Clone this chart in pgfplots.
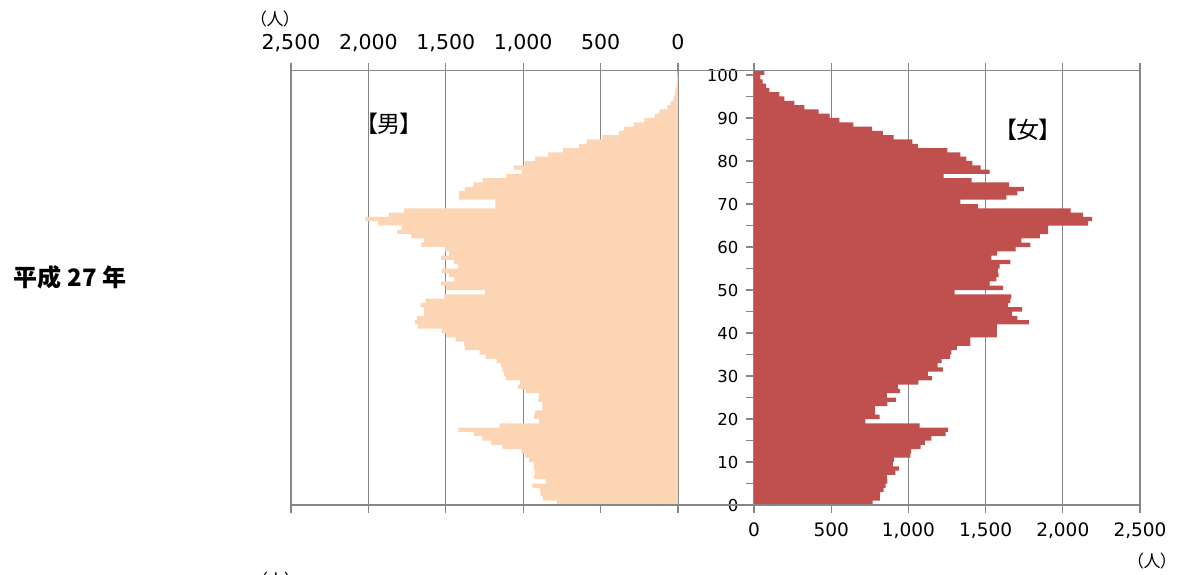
\documentclass[border=0pt]{standalone}
\usepackage{pgfplots}
\pgfplotsset{compat=1.18}
\usepackage{pgfplotstable}
\usepackage{fontspec}
\setmainfont{DejaVu Sans}
\newfontfamily\cjk[RawFeature=+palt]{Noto Sans CJK JP}
\definecolor{male}{RGB}{252,213,181}
\definecolor{female}{RGB}{192,80,77}
\definecolor{gridc}{RGB}{134,134,134}

\pgfplotstableread{
age m f
0 783 768
1 871 815
2 887 817
3 891 839
4 940 852
5 854 863
6 930 860
7 925 915
8 930 938
9 930 899
10 962 906
11 988 1012
12 1012 1018
13 1135 1079
14 1206 1107
15 1264 1148
16 1318 1241
17 1419 1258
18 1152 1072
19 897 722
20 930 813
21 925 785
22 876 783
23 876 863
24 902 921
25 897 860
26 984 947
27 1033 932
28 1020 1064
29 1113 1152
30 1124 1126
31 1135 1224
32 1145 1190
33 1171 1215
34 1242 1270
35 1281 1278
36 1376 1314
37 1383 1401
38 1437 1401
39 1497 1573
40 1527 1573
41 1678 1573
42 1700 1781
43 1685 1706
44 1641 1671
45 1641 1736
46 1663 1645
47 1631 1660
48 1510 1667
49 1248 1299
50 1500 1613
51 1530 1526
52 1445 1570
53 1480 1585
54 1525 1580
55 1420 1591
56 1450 1660
57 1530 1537
58 1478 1574
59 1506 1695
60 1657 1790
61 1641 1732
62 1723 1851
63 1814 1905
64 1786 1905
65 1937 2164
66 2019 2190
67 1868 2132
68 1771 2050
69 1180 1451
70 1180 1336
71 1415 1634
72 1415 1706
73 1378 1747
74 1322 1652
75 1262 1410
76 1109 1228
77 1009 1526
78 1059 1468
79 990 1414
80 923 1375
81 839 1336
82 742 1252
83 638 1062
84 591 1025
85 489 904
86 381 835
87 349 765
88 284 644
89 218 553
90 149 489
91 121 419
92 69 326
93 47 262
94 30 197
95 20 164
96 15 99
97 10 78
98 7 56
99 5 41
100 4 67
}\pop

\begin{document}
\begin{tikzpicture}[x=1pt,y=1pt]
\useasboundingbox (0,0) rectangle (1177,574);
\begin{axis}[
  at={(291pt,69pt)}, anchor=south west,
  scale only axis, width=387pt, height=434.3pt,
  x dir=reverse, xmin=0, xmax=2500, ymin=0, ymax=101,
  xtick={0,500,...,2500}, ytick=\empty,
  xtick pos=both, xticklabel pos=right, xtick align=outside,
  major tick length=8pt,
  tick style={gridc, line width=1.2pt},
  xmajorgrids, grid style={gridc, line width=1.2pt},
  axis line style={draw=none},
  scaled x ticks=false,
  /pgf/number format/assume math mode=true,
  xticklabel style={font=\fontsize{20.5}{24}\selectfont, text depth=0pt, yshift=10pt},
  xbar, bar width=1, bar shift=0pt,
]
\addplot[draw=none, fill=male] table[x=m, y expr=\thisrow{age}+0.5] {\pop};
\end{axis}
\begin{axis}[
  at={(754pt,69pt)}, anchor=south west,
  scale only axis, width=386pt, height=434.3pt,
  xmin=0, xmax=2500, ymin=0, ymax=101,
  xtick={0,500,...,2500}, ytick={0,10,...,100}, minor ytick={5,15,...,95},
  xtick pos=both, xticklabel pos=left, xtick align=outside,
  ytick pos=left, ytick align=outside,
  major tick length=8pt, minor tick length=8pt,
  tick style={gridc, line width=1.2pt},
  xmajorgrids, grid style={gridc, line width=1.2pt},
  axis line style={draw=none},
  scaled x ticks=false,
  /pgf/number format/assume math mode=true,
  xticklabel style={font=\fontsize{18.5}{22}\selectfont, text depth=0pt, yshift=-6pt},
  yticklabel style={font=\fontsize{16.5}{20}\selectfont, xshift=-4pt},
  xbar, bar width=1, bar shift=0pt,
]
\addplot[draw=none, fill=female] table[x=f, y expr=\thisrow{age}+0.5] {\pop};
\end{axis}
\draw[gridc, line width=1.2pt] (290,69) -- (1141,69);
\draw[gridc, line width=1.2pt] (290,503.3) -- (1141,503.3);
\node[font=\cjk\bfseries\fontsize{24}{28}\selectfont] at (70,296.5) {平成\hspace{6pt}27\hspace{6pt}年};
\node[font=\cjk\fontsize{23}{27}\selectfont] at (389,450) {【男】};
\node[font=\cjk\fontsize{23}{27}\selectfont] at (1028,444) {【女】};
\node[font=\cjk\fontsize{17}{20}\selectfont] at (275,555) {（人）};
\node[font=\cjk\fontsize{17}{20}\selectfont] at (1152,13) {（人）};
\node[font=\cjk\fontsize{17}{20}\selectfont] at (276,-6) {（人）};
\end{tikzpicture}
\end{document}
